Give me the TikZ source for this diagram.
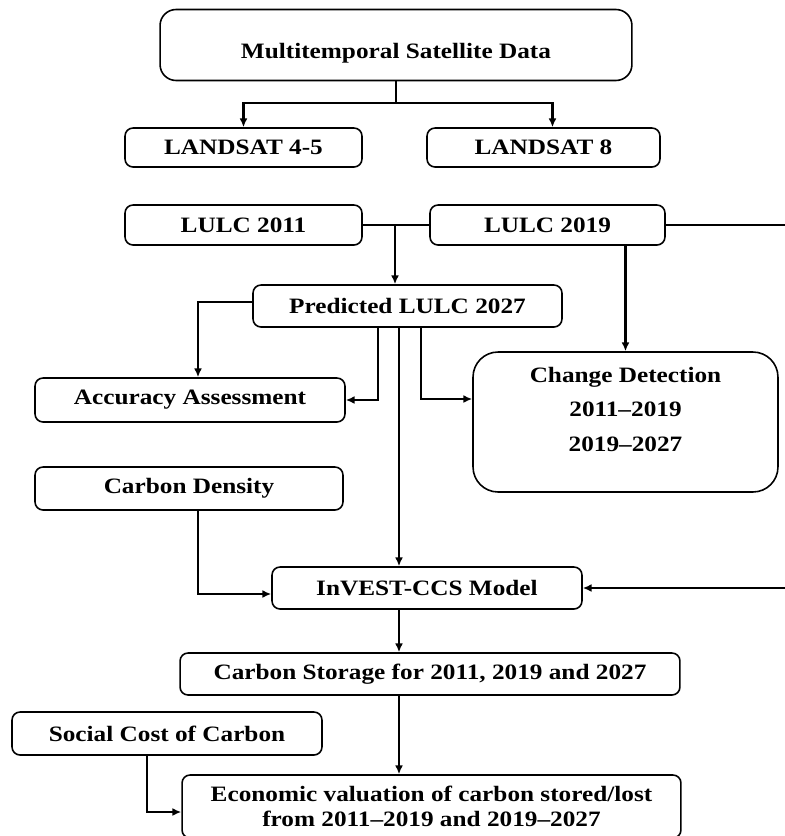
\documentclass[tikz,border=0pt]{standalone}
\usepackage{fontspec}
\setmainfont{Liberation Serif}[FakeStretch=1.15]
\usepackage{tikz}
\usetikzlibrary{arrows.meta, positioning, calc}

\begin{document}
\begin{tikzpicture}[
    x=0.02cm, y=-0.02cm,
    >={Latex[length=5pt,width=4.5pt]},
    box/.style={rectangle, draw, line width=0.9pt, rounded corners=0.16cm, minimum height=0.82cm, inner sep=0pt, font=\fontsize{12.5}{14.5}\selectfont\bfseries, align=center},
    bigbox/.style={box, rounded corners=0.32cm},
    roundbox/.style={box, rounded corners=0.5cm},
    arrow/.style={->, line width=1.2pt},
    link/.style={line width=1.2pt},
]
\useasboundingbox (0,0) rectangle (785,836);

% === SATELLITE DATA ===
\node[bigbox, minimum width=9.44cm, minimum height=1.42cm, text height=15pt, text depth=0pt] (multi) at (396,45) {Multitemporal Satellite Data};
\node[box, minimum width=4.74cm, minimum height=0.78cm] (ls45) at (243.5,147.5) {LANDSAT 4-5};
\node[box, minimum width=4.66cm, minimum height=0.78cm] (ls8) at (543.5,147.5) {LANDSAT 8};

% === LULC MAPS ===
\node[box, minimum width=4.74cm, minimum height=0.8cm] (lulc11) at (243.5,225) {LULC 2011};
\node[box, minimum width=4.7cm, minimum height=0.8cm] (lulc19) at (547.5,225) {LULC 2019};
\node[box, minimum width=6.18cm, minimum height=0.84cm] (pred) at (407.5,306) {Predicted LULC 2027};

% === ASSESSMENT ===
\node[box, minimum width=6.2cm, minimum height=0.88cm] (acc) at (190,400) {Accuracy Assessment};
\node[roundbox, minimum width=6.1cm, minimum height=2.8cm] (change) at (625.5,422) {Change Detection\\[5pt]2011--2019\\[5pt]2019--2027\\\mbox{}};

% === CARBON MODEL ===
\node[box, minimum width=6.16cm, minimum height=0.86cm] (cd) at (189,488.5) {Carbon Density};
\node[box, minimum width=6.2cm, minimum height=0.84cm] (invest) at (427,588) {InVEST-CCS Model};
\node[box, minimum width=10cm, minimum height=0.84cm] (storage) at (430,674) {Carbon Storage for 2011, 2019 and 2027};

% === VALUATION ===
\node[box, minimum width=6.2cm, minimum height=0.86cm] (social) at (167,733.5) {Social Cost of Carbon};
\node[box, minimum width=9.98cm, minimum height=1.26cm] (econ) at (431.5,806.5) {Economic valuation of carbon stored/lost\\from 2011--2019 and 2019--2027};

% === FLOW CONNECTIONS ===
% Satellite data to sensors
\draw[link] (multi.south) -- ++(0,22) coordinate (split);
\draw[arrow] (split) -| (ls45.north);
\draw[arrow] (split) -| ([xshift=0.18cm]ls8.north);

% LULC maps to prediction
\draw[link] (lulc11.east) -- (lulc19.west);
\coordinate (join) at (395,225);
\draw[arrow] (join) -- (join |- pred.north);

% LULC 2019 to change detection and model
\draw[arrow] (lulc19.south -| change.north) -- (change.north);
\draw[arrow] (lulc19.east) -- ++(140,0) |- (invest.east);

% Prediction outputs
\draw[arrow] ([yshift=0.08cm]pred.west) -| ([xshift=0.16cm]acc.north);
\draw[arrow] ([xshift=-0.59cm]pred.south) |- (acc.east);
\draw[arrow] ([xshift=-0.17cm]pred.south) coordinate (p) -- (p |- invest.north);
\draw[arrow] ([xshift=0.27cm]pred.south) |- ([yshift=0.46cm]change.west);

% Carbon density to model
\draw[arrow] ([xshift=0.18cm]cd.south) |- ([yshift=-0.12cm]invest.west);

% Model to storage to valuation
\draw[arrow] (p |- invest.south) -- (p |- storage.north);
\draw[arrow] (p |- storage.south) -- (p |- econ.north);

% Social cost to valuation
\draw[arrow] ([xshift=-0.4cm]social.south) |- ([yshift=-0.11cm]econ.west);

\end{tikzpicture}
\end{document}
